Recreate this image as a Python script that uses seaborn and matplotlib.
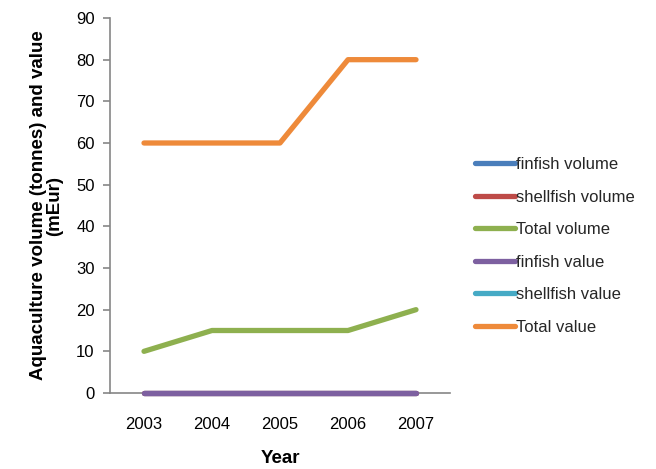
import numpy as np
import pandas as pd
import seaborn as sns
import matplotlib.pyplot as plt
from matplotlib.lines import Line2D

years = [2003, 2004, 2005, 2006, 2007]
finfish_volume = [0, 0, 0, 0, 0]
shellfish_volume = [0, 0, 0, 0, 0]
total_volume = [10, 15, 15, 15, 20]
finfish_value = [0, 0, 0, 0, 0]
shellfish_value = [np.nan, np.nan, np.nan, np.nan, np.nan]
total_value = [60, 60, 60, 80, 80]

series = {
    "finfish volume": finfish_volume,
    "shellfish volume": shellfish_volume,
    "Total volume": total_volume,
    "finfish value": finfish_value,
    "shellfish value": shellfish_value,
    "Total value": total_value,
}
palette = {
    "finfish volume": "#4A7EBB",
    "shellfish volume": "#BE4B48",
    "Total volume": "#8EB04F",
    "finfish value": "#7D60A0",
    "shellfish value": "#46AAC5",
    "Total value": "#EE8A3A",
}

sns.set_style("white")
plt.rcParams["font.family"] = ["Liberation Sans", "DejaVu Sans"]
fs = 12

fig = plt.figure(figsize=(6.56, 4.69), dpi=100)
ax = fig.add_axes([110 / 656, 1 - 393 / 469, 340 / 656, 375 / 469])

handles = []
for i, (name, vals) in enumerate(series.items()):
    df = pd.DataFrame({"year": years, "v": vals}).dropna()
    if len(df):
        sns.lineplot(data=df, x="year", y="v", color=palette[name], linewidth=3.8,
                     ax=ax, zorder=3 + i, solid_capstyle="round", clip_on=False)
    handles.append(Line2D([], [], color=palette[name], linewidth=3.8,
                          solid_capstyle="round", label=name))

ax.set_xlim(2002.5, 2007.5)
ax.set_ylim(0, 90)
ax.set_xticks(years)
ax.set_xticklabels([str(y) for y in years])
ax.set_xticks([2002.5 + k for k in range(6)], minor=True)
ax.set_yticks(range(0, 91, 10))
ax.tick_params(axis="x", which="major", length=0, pad=17, labelsize=fs, labelcolor="#000000")
ax.tick_params(axis="x", which="minor", length=5, width=1.2, color="#868686", direction="out")
ax.tick_params(axis="y", length=5, width=1.2, color="#868686", direction="out",
               labelsize=fs, pad=6, left=True, labelcolor="#000000")
for s in ["top", "right"]:
    ax.spines[s].set_visible(False)
for s in ["left", "bottom"]:
    ax.spines[s].set_color("#868686")
    ax.spines[s].set_linewidth(1.2)

ax.set_xlabel("Year", fontsize=13.5, fontweight="bold", labelpad=13, color="#000000")
ax.set_ylabel("Aquaculture volume (tonnes) and value\n(mEur)", fontsize=13.5,
              fontweight="bold", labelpad=9, linespacing=1.0, color="#000000")

fig.legend(handles=handles, loc="center left", bbox_to_anchor=(468 / 656, 1 - 246 / 469),
           frameon=False, fontsize=fs, handlelength=2.4, handletextpad=0.1,
           labelspacing=1.05, borderaxespad=0)

fig.savefig("out.png", dpi=100)
